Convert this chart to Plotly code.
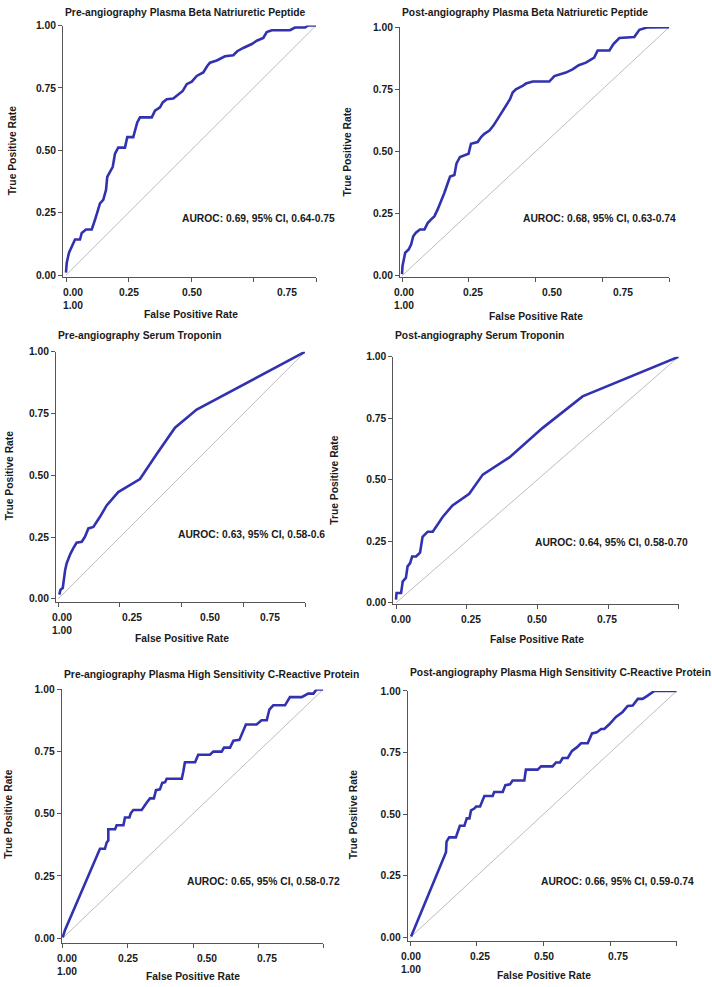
import plotly.graph_objects as go

W, H = 712, 987

# ---------------- data ----------------
panel_titles = [
    "Pre-angiography Plasma Beta Natriuretic Peptide",
    "Post-angiography Plasma Beta Natriuretic Peptide",
    "Pre-angiography Serum Troponin",
    "Post-angiography Serum Troponin",
    "Pre-angiography Plasma High Sensitivity C-Reactive Protein",
    "Post-angiography Plasma High Sensitivity C-Reactive Protein",
]
auroc_labels = [
    "AUROC: 0.69, 95% CI, 0.64-0.75",
    "AUROC: 0.68, 95% CI, 0.63-0.74",
    "AUROC: 0.63, 95% CI, 0.58-0.6",
    "AUROC: 0.64, 95% CI, 0.58-0.70",
    "AUROC: 0.65, 95% CI, 0.58-0.72",
    "AUROC: 0.66, 95% CI, 0.59-0.74",
]
x_title = "False Positive Rate"
y_title = "True Positive Rate"
tick_vals = [0, 0.25, 0.5, 0.75, 1]
y_tick_text = ["0.00", "0.25", "0.50", "0.75", "1.00"]
x_tick_text_wrapped = ["0.00<br>1.00", "0.25", "0.50", "0.75"]
x_tick_text_full = ["0.00", "0.25", "0.50", "0.75", "1.00"]

chance_fpr = [0, 1]
chance_tpr = [0, 1]

fpr_pre_bnp = [0, 0.003, 0.012, 0.023, 0.036, 0.056, 0.063, 0.08, 0.103, 0.116,
               0.127, 0.136, 0.149, 0.16, 0.165, 0.176, 0.187, 0.196, 0.209, 0.236,
               0.245, 0.269, 0.276, 0.285, 0.296, 0.343, 0.356, 0.376, 0.387, 0.403,
               0.429, 0.449, 0.467, 0.483, 0.503, 0.523, 0.549, 0.565, 0.576, 0.603,
               0.636, 0.669, 0.685, 0.709, 0.743, 0.763, 0.789, 0.803, 0.823, 0.896,
               0.916, 0.956, 0.969, 1.0]
tpr_pre_bnp = [0.01, 0.05, 0.09, 0.116, 0.143, 0.143, 0.169, 0.183, 0.183, 0.222,
               0.262, 0.288, 0.302, 0.341, 0.394, 0.414, 0.434, 0.487, 0.511, 0.511,
               0.553, 0.553, 0.579, 0.612, 0.632, 0.632, 0.659, 0.672, 0.692, 0.705,
               0.708, 0.725, 0.738, 0.765, 0.775, 0.798, 0.812, 0.838, 0.851, 0.860,
               0.877, 0.881, 0.897, 0.910, 0.926, 0.939, 0.950, 0.974, 0.981, 0.981,
               0.992, 0.992, 1.0, 1.0]

fpr_post_bnp = [0, 0.002, 0.012, 0.025, 0.034, 0.042, 0.052, 0.067, 0.084, 0.096,
                0.108, 0.121, 0.133, 0.146, 0.158, 0.171, 0.18, 0.196, 0.204, 0.217,
                0.233, 0.249, 0.258, 0.283, 0.296, 0.308, 0.327, 0.342, 0.358, 0.374,
                0.389, 0.404, 0.414, 0.426, 0.451, 0.464, 0.489, 0.551, 0.57, 0.591,
                0.613, 0.638, 0.661, 0.688, 0.719, 0.732, 0.776, 0.791, 0.813, 0.869,
                0.888, 0.919, 1.0]
tpr_post_bnp = [0.007, 0.04, 0.093, 0.106, 0.126, 0.159, 0.173, 0.186, 0.186, 0.212,
                0.226, 0.239, 0.266, 0.299, 0.332, 0.372, 0.399, 0.405, 0.452, 0.478,
                0.485, 0.491, 0.531, 0.538, 0.558, 0.571, 0.584, 0.604, 0.631, 0.657,
                0.684, 0.71, 0.737, 0.75, 0.764, 0.773, 0.781, 0.781, 0.803, 0.811,
                0.817, 0.83, 0.847, 0.857, 0.877, 0.906, 0.906, 0.932, 0.956, 0.96,
                0.989, 0.999, 1.0]

fpr_pre_trop = [0.004, 0.009, 0.018, 0.023, 0.028, 0.034, 0.041, 0.05, 0.061, 0.074,
                0.095, 0.108, 0.122, 0.142, 0.169, 0.196, 0.243, 0.331, 0.399, 0.473,
                0.561, 1.0]
tpr_pre_trop = [0.017, 0.037, 0.044, 0.084, 0.118, 0.144, 0.164, 0.184, 0.205, 0.227,
                0.231, 0.251, 0.285, 0.291, 0.332, 0.378, 0.432, 0.485, 0.586, 0.693,
                0.766, 1.0]

fpr_post_trop = [0, 0.002, 0.018, 0.024, 0.035, 0.041, 0.05, 0.057, 0.071, 0.085,
                 0.094, 0.112, 0.13, 0.165, 0.2, 0.259, 0.307, 0.401, 0.519, 0.66,
                 1.0]
tpr_post_trop = [0.013, 0.04, 0.04, 0.087, 0.101, 0.148, 0.161, 0.188, 0.188, 0.204,
                 0.268, 0.289, 0.289, 0.349, 0.396, 0.443, 0.521, 0.591, 0.711, 0.839,
                 1.0]

fpr_pre_crp = [0, 0.009, 0.143, 0.162, 0.169, 0.175, 0.175, 0.201, 0.207, 0.233,
               0.239, 0.256, 0.261, 0.271, 0.303, 0.312, 0.322, 0.335, 0.35, 0.358,
               0.373, 0.382, 0.393, 0.399, 0.457, 0.463, 0.469, 0.508, 0.52, 0.565,
               0.578, 0.61, 0.619, 0.642, 0.655, 0.678, 0.691, 0.703, 0.744, 0.763,
               0.783, 0.793, 0.808, 0.853, 0.872, 0.917, 0.942, 0.962, 0.974, 1.0]
tpr_pre_crp = [0.003, 0.033, 0.359, 0.359, 0.385, 0.392, 0.438, 0.438, 0.454, 0.454,
               0.485, 0.485, 0.502, 0.515, 0.515, 0.531, 0.544, 0.562, 0.562, 0.595,
               0.598, 0.624, 0.627, 0.641, 0.641, 0.671, 0.707, 0.707, 0.737, 0.737,
               0.75, 0.75, 0.766, 0.766, 0.794, 0.797, 0.83, 0.859, 0.859, 0.876,
               0.876, 0.919, 0.936, 0.936, 0.969, 0.969, 0.983, 0.983, 1.0, 1.0]

fpr_post_crp = [0.003, 0.134, 0.136, 0.146, 0.171, 0.186, 0.203, 0.212, 0.222, 0.228,
                0.24, 0.247, 0.262, 0.278, 0.309, 0.315, 0.347, 0.357, 0.374, 0.384,
                0.428, 0.434, 0.478, 0.491, 0.534, 0.547, 0.562, 0.572, 0.591, 0.607,
                0.625, 0.641, 0.666, 0.682, 0.7, 0.716, 0.728, 0.747, 0.772, 0.797,
                0.816, 0.835, 0.854, 0.872, 0.891, 0.916, 1.0]
tpr_post_crp = [0.004, 0.346, 0.389, 0.406, 0.406, 0.453, 0.453, 0.483, 0.483, 0.516,
                0.523, 0.531, 0.531, 0.574, 0.574, 0.59, 0.59, 0.618, 0.621, 0.637,
                0.637, 0.681, 0.681, 0.694, 0.694, 0.71, 0.71, 0.728, 0.728, 0.757,
                0.771, 0.788, 0.788, 0.828, 0.832, 0.846, 0.846, 0.865, 0.895, 0.915,
                0.939, 0.941, 0.968, 0.968, 0.981, 1.0, 1.0]

curves = [
    (fpr_pre_bnp, tpr_pre_bnp),
    (fpr_post_bnp, tpr_post_bnp),
    (fpr_pre_trop, tpr_pre_trop),
    (fpr_post_trop, tpr_post_trop),
    (fpr_pre_crp, tpr_pre_crp),
    (fpr_post_crp, tpr_post_crp),
]

# ---------------- layout geometry (pixels) ----------------
# left = y-axis line, x0/x1 = data 0/1, top/y0 = data 1/0, bottom = x-axis line,
# ytx = y-title x, tty = panel-title y, xtd = x-title distance below axis line
geom = [
    dict(left=63, x0=66, x1=316, top=20.7, y0=272.7, bottom=275, ytx=12, tty=7.5, xtd=37,
         lab=[0.027, 0.252, 0.505, 0.883], auroc=(0.456, 0.229)),
    dict(left=400, x0=402, x1=669.3, top=22.3, y0=273.3, bottom=275, ytx=347, tty=7.5, xtd=39,
         lab=[0.009, 0.267, 0.561, 0.825], auroc=(0.445, 0.232)),
    dict(left=56, x0=58.3, x1=305, top=350, y0=599.3, bottom=602.7, ytx=9, tty=334, xtd=37,
         lab=[0.016, 0.297, 0.615, 0.858], auroc=(0.476, 0.262)),
    dict(left=393.3, x0=396, x1=678.7, top=355, y0=603.3, bottom=605, ytx=335, tty=334, xtd=35,
         lab=[0.018, 0.265, 0.5, 0.745, 1.017], auroc=(0.484, 0.246)),
    dict(left=61.7, x0=62.7, x1=323.3, top=690.7, y0=941.7, bottom=946.7, ytx=9, tty=676, xtd=34,
         lab=[0.015, 0.252, 0.552, 0.785], auroc=(0.469, 0.226)),
    dict(left=407.7, x0=410.3, x1=676.7, top=692.3, y0=941, bottom=944.7, ytx=353, tty=674, xtd=35,
         lab=[0.004, 0.262, 0.503, 0.781], auroc=(0.482, 0.225)),
]


def fx_(px):
    return px / W


def fy_(py):
    return 1 - py / H


FONT = "Liberation Sans, Arial, Helvetica, sans-serif"
FS = 10.3
TXT = "#1a1a1a"
AX = "#555555"
CURVE = "#3232B0"
DIAG = "#BDBDBD"

fig = go.Figure()
annotations = []
layout = dict(
    width=W, height=H, margin=dict(l=0, r=0, t=0, b=0),
    paper_bgcolor="white", plot_bgcolor="white", showlegend=False,
    font=dict(family=FONT, size=FS, color=TXT),
)

for i, (g, (fx, ty)) in enumerate(zip(geom, curves)):
    n = i + 1
    xa = "x" if n == 1 else f"x{n}"
    ya = "y" if n == 1 else f"y{n}"
    fig.add_trace(go.Scatter(x=chance_fpr, y=chance_tpr, mode="lines",
                             line=dict(color=DIAG, width=1), xaxis=xa, yaxis=ya,
                             hoverinfo="skip"))
    fig.add_trace(go.Scatter(x=fx, y=ty, mode="lines",
                             line=dict(color=CURVE, width=2.6), xaxis=xa, yaxis=ya))

    xlo = -(g["x0"] - g["left"]) / (g["x1"] - g["x0"])
    ylo = -(g["bottom"] - g["y0"]) / (g["y0"] - g["top"])
    layout[f"xaxis{'' if n == 1 else n}"] = dict(
        domain=[fx_(g["left"]), fx_(g["x1"])], range=[xlo, 1.0], anchor=ya,
        showline=True, linecolor=AX, linewidth=1, ticks="outside", ticklen=4,
        tickcolor=AX, tickwidth=1, tickvals=tick_vals, showticklabels=False,
        showgrid=False, zeroline=False, fixedrange=True)
    layout[f"yaxis{'' if n == 1 else n}"] = dict(
        domain=[fy_(g["bottom"]), fy_(g["top"])], range=[ylo, 1.0], anchor=xa,
        showline=True, linecolor=AX, linewidth=1, ticks="outside", ticklen=4,
        tickcolor=AX, tickwidth=1, tickvals=tick_vals, ticktext=y_tick_text,
        tickfont=dict(family=FONT, size=FS, color=TXT, weight="bold"),
        showgrid=False, zeroline=False, fixedrange=True)

    # x tick labels (placed where the reference figure shows them)
    texts = x_tick_text_full if len(g["lab"]) == 5 else x_tick_text_wrapped
    for pos, t in zip(g["lab"], texts):
        annotations.append(dict(
            text=f"<b>{t}</b>", x=pos, xref=xa, y=fy_(g["bottom"]), yref="paper",
            xanchor="center", yanchor="top", yshift=-8, showarrow=False,
            font=dict(family=FONT, size=FS, color=TXT)))
    # x title
    annotations.append(dict(
        text=f"<b>{x_title}</b>", x=0.5, xref=xa, y=fy_(g["bottom"] + g["xtd"]),
        yref="paper", xanchor="center", yanchor="middle", showarrow=False,
        font=dict(family=FONT, size=FS, color=TXT)))
    # y title
    annotations.append(dict(
        text=f"<b>{y_title}</b>", x=fx_(g["ytx"]), xref="paper", y=0.5, yref=ya,
        xanchor="center", yanchor="middle", textangle=-90, showarrow=False,
        font=dict(family=FONT, size=FS, color=TXT)))
    # panel title
    annotations.append(dict(
        text=f"<b>{panel_titles[i]}</b>", x=fx_(g["left"]), xref="paper",
        y=fy_(g["tty"]), yref="paper", xanchor="left", yanchor="middle",
        showarrow=False, font=dict(family=FONT, size=FS, color=TXT)))
    # AUROC label
    annotations.append(dict(
        text=f"<b>{auroc_labels[i]}</b>", x=g["auroc"][0], xref=xa,
        y=g["auroc"][1], yref=ya, xanchor="left", yanchor="middle",
        showarrow=False, font=dict(family=FONT, size=FS, color=TXT)))

layout["annotations"] = annotations
fig.update_layout(**layout)
fig.write_html("out.html",
               config={"displayModeBar": False},
               post_script="document.body.style.margin='0';document.body.style.overflow='hidden';")
